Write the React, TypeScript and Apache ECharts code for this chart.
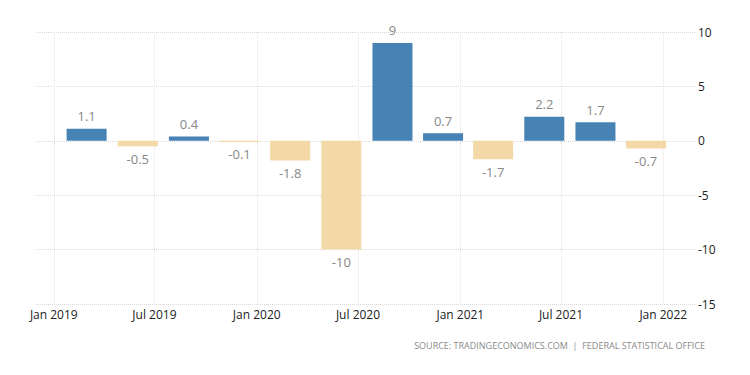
import React, { useEffect, useRef } from "react";
import * as echarts from "echarts";

const periods = [
  "2019-03-01", "2019-06-01", "2019-09-01", "2019-12-01",
  "2020-03-01", "2020-06-01", "2020-09-01", "2020-12-01",
  "2021-03-01", "2021-06-01", "2021-09-01", "2021-12-01",
];
const values = [1.1, -0.5, 0.4, -0.1, -1.8, -10, 9, 0.7, -1.7, 2.2, 1.7, -0.7];
const xTicks = [
  "2019-01-01", "2019-07-01", "2020-01-01", "2020-07-01",
  "2021-01-01", "2021-07-01", "2022-01-01",
];
const xMin = "2018-11-30";
const xMax = "2022-02-27";
const monthNames = ["Jan", "Feb", "Mar", "Apr", "May", "Jun", "Jul", "Aug", "Sep", "Oct", "Nov", "Dec"];
const sourceText = "SOURCE: TRADINGECONOMICS.COM  |  FEDERAL STATISTICAL OFFICE";

const POS = "#4682b4";
const NEG = "#f3d9a7";

const ts = (s: string) => Date.UTC(+s.slice(0, 4), +s.slice(5, 7) - 1, +s.slice(8, 10));

export default function App() {
  const ref = useRef<HTMLDivElement>(null);
  useEffect(() => {
    if (!ref.current) return;
    const chart = echarts.init(ref.current, null, { renderer: "svg" });
    const tickVals = xTicks.map(ts);
    const data = periods.map((p, i) => ({
      value: [ts(p), values[i]],
      itemStyle: { color: values[i] >= 0 ? POS : NEG },
      label: { position: values[i] >= 0 ? "top" : "bottom" },
    }));
    chart.setOption({
      animation: false,
      backgroundColor: "#ffffff",
      textStyle: { fontFamily: "Open Sans" },
      grid: { left: 36, right: 55, top: 32, bottom: 71 },
      xAxis: {
        type: "value",
        min: ts(xMin),
        max: ts(xMax),
        axisLine: { show: false },
        axisTick: { show: true, length: 4, customValues: tickVals, lineStyle: { color: "#e0e0e0" } },
        axisLabel: {
          customValues: tickVals,
          margin: 4,
          color: "#222",
          fontSize: 12,
          fontFamily: "Open Sans",
          formatter: (v: number) => {
            const d = new Date(v);
            return monthNames[d.getUTCMonth()] + " " + d.getUTCFullYear();
          },
        },
        splitLine: { show: true, lineStyle: { color: "#e4e4e4", type: "dotted", width: 1 } },
      },
      yAxis: {
        type: "value",
        position: "right",
        min: -15,
        max: 10,
        interval: 5,
        axisLine: { show: false },
        axisTick: { show: false },
        axisLabel: { margin: 3, color: "#222", fontSize: 12, fontFamily: "Open Sans" },
        splitLine: { show: true, lineStyle: { color: "#d8d8d8", type: "dotted", width: 1 } },
      },
      series: [
        {
          type: "bar",
          barWidth: 40,
          data,
          label: {
            show: true,
            distance: 6,
            color: "#888",
            fontSize: 13,
            fontFamily: "Open Sans",
            formatter: (p: any) => String(p.value[1]),
          },
        },
      ],
      graphic: [
        {
          type: "text",
          right: 45,
          top: 341,
          style: {
            text: sourceText,
            fill: "#8a8a8a",
            fontSize: 9,
            fontFamily: "Open Sans",
          },
        },
      ],
    });
    return () => chart.dispose();
  }, []);
  return (
    <div
      ref={ref}
      style={{ position: "fixed", left: 0, top: 0, width: 750, height: 375, background: "#fff" }}
    />
  );
}
